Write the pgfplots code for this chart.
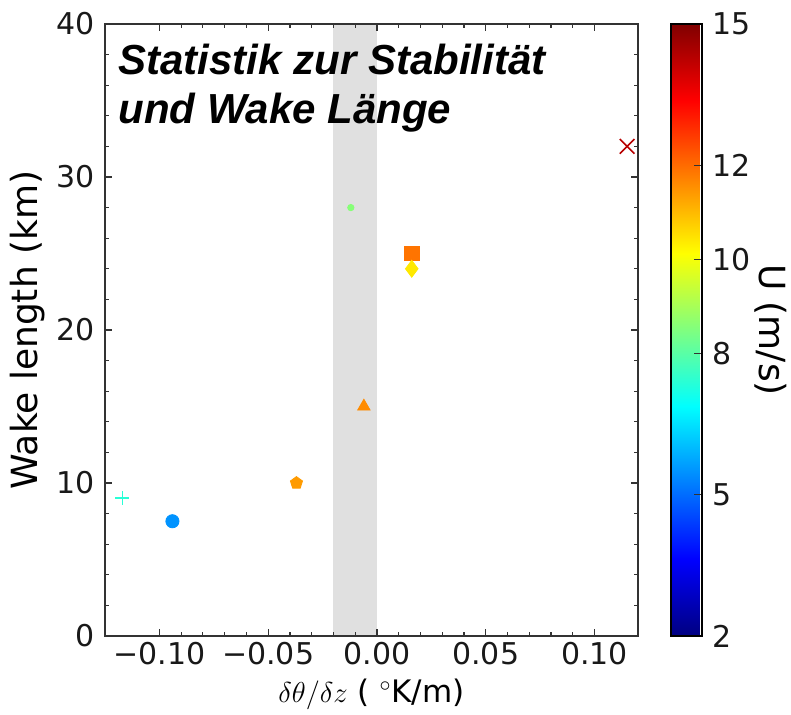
\documentclass[border=0pt]{standalone}
\usepackage{pgfplots}
\pgfplotsset{compat=1.18}
\usepackage{fontspec}
\setmainfont{DejaVu Sans}
\newfontfamily\titlefont{Liberation Sans}
\usetikzlibrary{plotmarks}
\pgfplotsset{
  colormap={mpljet}{rgb255(0cm)=(0,0,128) rgb255(1cm)=(0,0,255) rgb255(3cm)=(0,255,255) rgb255(5cm)=(255,255,0) rgb255(7cm)=(255,0,0) rgb255(8cm)=(128,0,0)},
  /pgf/number format/assume math mode=true,
}
\begin{document}
\begin{tikzpicture}
\begin{axis}[
  name=ax,
  at={(0,0)}, anchor=south west,
  scale only axis,
  width=266.5pt, height=306pt,
  xmin=-0.125, xmax=0.12,
  ymin=0, ymax=40,
  xtick={-0.10,-0.05,0,0.05,0.10},
  xticklabels={−0.10,−0.05,0.00,0.05,0.10},
  ytick={0,10,20,30,40},
  minor x tick num=4,
  minor y tick num=4,
  tick align=inside,
  major tick length=3.5pt,
  minor tick length=2pt,
  tick style={line width=0.6pt, color=black!80},
  axis line style={line width=0.8pt, color=black!80},
  axis on top,
  ticklabel style={font=\fontsize{15}{18}\selectfont, text=black!90},
  xticklabel style={inner sep=0pt, anchor=north, yshift=-3pt},
  yticklabel style={inner sep=0pt, anchor=east, xshift=-5pt},
  every axis y label/.style={at={(axis description cs:-0.1445,0.5)}, anchor=center, rotate=90, font=\fontsize{18}{21}\selectfont},
  every axis x label/.style={at={(axis description cs:0.5,-0.108)}, anchor=base, font=\fontsize{15.5}{18}\selectfont},
  xlabel={$\delta\theta/\delta z$ ( $^\circ$K/m)},
  ylabel={Wake length (km)},
  colormap name=mpljet,
  point meta min=2, point meta max=15,
  colorbar,
  colorbar style={
    at={(parent axis.north east)}, anchor=north west, xshift=8pt,
    width=15.5pt,
    ytick={2,5,8,10,12,15},
    ytick pos=right,
    tick align=inside,
    major tick length=4pt,
    tick style={line width=0.6pt, color=black!80},
    axis line style={line width=0.8pt, color=black},
    yticklabel style={inner sep=0pt, anchor=west, xshift=5pt, font=\fontsize{15}{18}\selectfont},
    every axis y label/.style={at={(axis description cs:1,0.5)}, xshift=34.5pt, anchor=center, rotate=-90, font=\fontsize{18}{21}\selectfont},
    ylabel={U (m/s)},
  },
  scatter/use mapped color={draw=mapped color, fill=mapped color},
]
% stability-neutral band
\addplot[fill=black!12, draw=none, forget plot] coordinates {(-0.02,0) (0,0) (0,40) (-0.02,40)} -- cycle;

\addplot[scatter, only marks, mark=+, mark size=3.5pt, mark options={line width=0.8pt}, point meta=explicit] coordinates {(-0.117,9.0) [7.4]};
\addplot[scatter, only marks, mark=*, mark size=3.3pt, point meta=explicit] coordinates {(-0.094,7.5) [5.5]};
\addplot[scatter, only marks, mark=pentagon*, mark size=3.2pt, point meta=explicit] coordinates {(-0.037,10.0) [11.4]};
\addplot[scatter, only marks, mark=*, mark size=1.6pt, point meta=explicit] coordinates {(-0.012,28.0) [8.6]};
\addplot[scatter, only marks, mark=triangle*, mark size=3.6pt, point meta=explicit] coordinates {(-0.006,15.0) [11.6]};
\addplot[scatter, only marks, mark=square*, mark size=3.6pt, point meta=explicit] coordinates {(0.016,25.0) [11.9]};
\addplot[scatter, only marks, mark=diamond*, mark size=4.2pt, point meta=explicit] coordinates {(0.016,24.0) [10.4]};
\addplot[scatter, only marks, mark=x, mark size=5.2pt, mark options={line width=0.8pt}, point meta=explicit] coordinates {(0.115,32.0) [14.3]};

\node[anchor=base west, inner sep=0pt, font=\titlefont\fontsize{21}{24}\selectfont\bfseries\itshape] at (rel axis cs:0.0244,0.918) {Statistik zur Stabilität};
\node[anchor=base west, inner sep=0pt, font=\titlefont\fontsize{21}{24}\selectfont\bfseries\itshape] at (rel axis cs:0.0244,0.838) {und Wake Länge};
\end{axis}
\pgfresetboundingbox
\path (-52.5pt,-39.5pt) rectangle (343pt,318pt);
\end{tikzpicture}
\end{document}
